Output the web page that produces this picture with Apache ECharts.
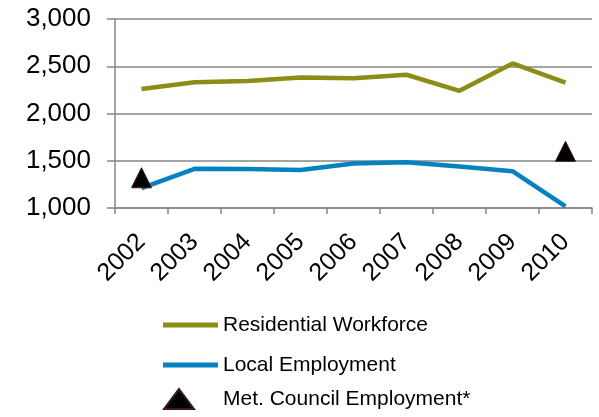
<!DOCTYPE html>
<html>
<head>
<meta charset="utf-8">
<script src="https://cdn.jsdelivr.net/npm/echarts@6/dist/echarts.min.js"></script>
<style>html,body{margin:0;padding:0;background:#fff;}#c{width:599px;height:417px;}</style>
</head>
<body>
<div id="c"></div>
<script>
var years = ['2002','2003','2004','2005','2006','2007','2008','2009','2010'];
var residentialWorkforce = [2260, 2330, 2345, 2382, 2372, 2410, 2240, 2530, 2327];
var localEmployment = [1210, 1415, 1412, 1403, 1472, 1484, 1440, 1390, 1018];
var metCouncilEmployment = [1320, '-', '-', '-', '-', '-', '-', '-', 1600];
var yTicks = {min: 1000, max: 3000, interval: 500};

var FONT = 'Liberation Sans, Arial, sans-serif';
var chart = echarts.init(document.getElementById('c'));
var legText = {fontSize: 21, lineHeight: 24, color: '#000', fontFamily: FONT};
chart.setOption({
  animation: false,
  backgroundColor: '#ffffff',
  grid: {left: 115, right: 7, top: 19, bottom: 209, containLabel: false},
  xAxis: {
    type: 'category',
    data: years,
    boundaryGap: true,
    axisLine: {lineStyle: {color: '#868686', width: 1.5}},
    axisTick: {show: true, length: 6, alignWithLabel: false, lineStyle: {color: '#868686', width: 1.5}},
    axisLabel: {rotate: 45, margin: 30, fontSize: 25, color: '#000', fontFamily: FONT, interval: 0}
  },
  yAxis: {
    type: 'value',
    min: yTicks.min, max: yTicks.max, interval: yTicks.interval,
    axisLine: {show: true, lineStyle: {color: '#868686', width: 1.5}},
    axisTick: {show: true, length: 8, lineStyle: {color: '#868686', width: 1.5}},
    splitLine: {lineStyle: {color: '#868686', width: 1.5}},
    axisLabel: {margin: 24, fontSize: 26, color: '#000', fontFamily: FONT,
      formatter: function (v) { return v.toLocaleString('en-US'); }}
  },
  legend: [
    {data: [{name: 'Residential Workforce', icon: 'rect'}], orient: 'vertical', left: 163, top: 313, padding: 0,
     itemWidth: 55, itemHeight: 5, textStyle: legText},
    {data: [{name: 'Local Employment', icon: 'rect'}], orient: 'vertical', left: 163, top: 353, padding: 0,
     itemWidth: 55, itemHeight: 5, textStyle: legText},
    {data: [{name: 'Met. Council Employment*', icon: 'triangle'}], orient: 'vertical', left: 163, top: 387, padding: 0,
     itemWidth: 30, itemHeight: 20, itemStyle: {opacity: 1},
     textStyle: Object.assign({}, legText, {padding: [0, 0, 0, 24]})}
  ],
  series: [
    {name: 'Residential Workforce', type: 'line', data: residentialWorkforce, showSymbol: false, symbol: 'none',
     lineStyle: {color: '#8c8d16', width: 4.5}, itemStyle: {color: '#8c8d16'}},
    {name: 'Local Employment', type: 'line', data: localEmployment, showSymbol: false, symbol: 'none',
     lineStyle: {color: '#0582bf', width: 4.5}, itemStyle: {color: '#0582bf'}},
    {name: 'Met. Council Employment*', type: 'scatter', data: metCouncilEmployment, symbol: 'triangle', symbolSize: [20, 20],
     itemStyle: {color: '#000000', borderColor: '#3a1a22', borderWidth: 1, opacity: 1}, z: 5}
  ]
});
</script>
</body>
</html>
